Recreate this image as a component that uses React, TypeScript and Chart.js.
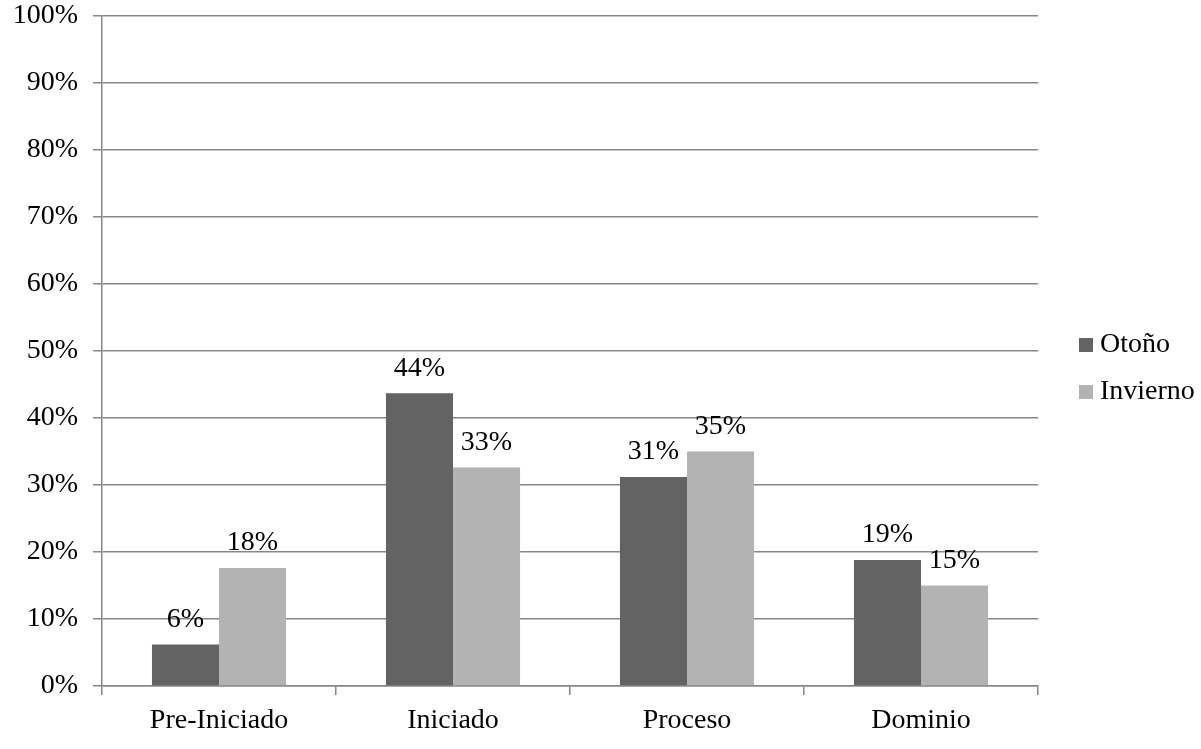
import React, { useEffect, useRef } from "react";
import { Chart, registerables } from "chart.js";

Chart.register(...registerables);

const categories = ["Pre-Iniciado", "Iniciado", "Proceso", "Dominio"];
const seriesNames = ["Otoño", "Invierno"];
const otono = [6.2, 43.7, 31.2, 18.8];
const invierno = [17.6, 32.6, 35.0, 15.0];
const colors = ["#636363", "#b3b3b3"];

const FONT = "'Liberation Serif', 'Times New Roman', serif";
const FONT_SIZE = 28;
const GRID = "#878787";

const valueLabels = {
  id: "valueLabels",
  afterDatasetsDraw(chart: any) {
    const ctx = chart.ctx;
    ctx.save();
    ctx.font = `${FONT_SIZE}px ${FONT}`;
    ctx.fillStyle = "#000";
    ctx.textAlign = "center";
    ctx.textBaseline = "middle";
    chart.data.datasets.forEach((ds: any, i: number) => {
      const meta = chart.getDatasetMeta(i);
      meta.data.forEach((el: any, j: number) => {
        ctx.fillText(Math.round(ds.data[j]) + "%", el.x, el.y - 25);
      });
    });
    ctx.restore();
  },
};

const sideLegend = {
  id: "sideLegend",
  afterDraw(chart: any) {
    const ctx = chart.ctx;
    const area = chart.chartArea;
    ctx.save();
    ctx.font = `${FONT_SIZE}px ${FONT}`;
    ctx.textBaseline = "middle";
    ctx.textAlign = "left";
    const x = area.right + 41;
    const startY = 345;
    chart.data.datasets.forEach((ds: any, i: number) => {
      const cy = startY + i * 47;
      ctx.fillStyle = ds.backgroundColor;
      ctx.fillRect(x, cy - 7, 14, 14);
      ctx.fillStyle = "#000";
      ctx.fillText(ds.label, x + 21, cy);
    });
    ctx.restore();
  },
};

export default function App() {
  const ref = useRef<HTMLCanvasElement>(null);
  useEffect(() => {
    if (!ref.current) return;
    const chart = new Chart(ref.current, {
      type: "bar",
      data: {
        labels: categories,
        datasets: [
          { label: seriesNames[0], data: otono, backgroundColor: colors[0], borderWidth: 0 },
          { label: seriesNames[1], data: invierno, backgroundColor: colors[1], borderWidth: 0 },
        ],
      },
      options: {
        responsive: false,
        animation: false,
        layout: { padding: { top: 0, right: 163, left: 0, bottom: 0 } },
        datasets: { bar: { barPercentage: 1, categoryPercentage: 0.573 } },
        plugins: {
          legend: { display: false },
          tooltip: { enabled: false },
        },
        scales: {
          x: {
            offset: true,
            grid: {
              offset: true,
              drawOnChartArea: false,
              drawTicks: true,
              tickLength: 9,
              color: GRID,
              lineWidth: 1.5,
            },
            border: { display: true, color: GRID, width: 1.5 },
            ticks: {
              color: "#000",
              font: { family: FONT, size: FONT_SIZE },
              padding: 9,
            },
            afterFit(scale: any) {
              scale.height = 63;
            },
          },
          y: {
            min: 0,
            max: 100,
            grid: {
              color: GRID,
              lineWidth: 1.5,
              tickLength: 9,
            },
            border: { display: true, color: GRID, width: 1.5 },
            ticks: {
              stepSize: 10,
              color: "#000",
              font: { family: FONT, size: FONT_SIZE, lineHeight: 1.15 },
              padding: 15,
              callback: (v: any) => v + "%",
            },
            afterFit(scale: any) {
              scale.width = 102;
              scale.paddingTop = 16;
              scale.paddingBottom = 16;
            },
          },
        },
      },
      plugins: [valueLabels, sideLegend],
    });
    return () => chart.destroy();
  }, []);
  return (
    <div style={{ position: "absolute", left: 0, top: 0, width: 1201, height: 749, background: "#fff" }}>
      <canvas ref={ref} width={1201} height={749} />
    </div>
  );
}
